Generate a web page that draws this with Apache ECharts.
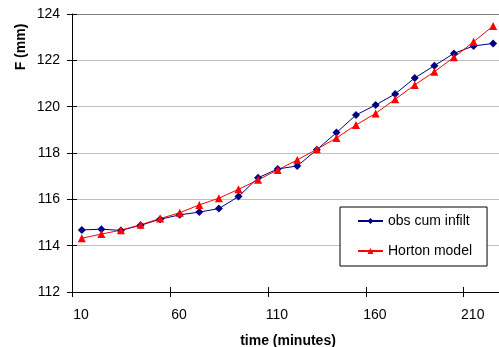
<!DOCTYPE html>
<html>
<head>
<meta charset="utf-8">
<script src="https://cdn.jsdelivr.net/npm/echarts@6/dist/echarts.min.js"></script>
<style>html,body{margin:0;padding:0;background:#fff;}#c{width:499px;height:347px;}</style>
</head>
<body>
<div id="c"></div>
<script>
const minutes = [15,25,35,45,55,65,75,85,95,105,115,125,135,145,155,165,175,185,195,205,215,225];
const obsCumInfilt = [114.68,114.71,114.66,114.88,115.14,115.33,115.45,115.6,116.12,116.93,117.31,117.44,118.14,118.88,119.64,120.07,120.55,121.24,121.77,122.30,122.62,122.73];
const hortonModel = [114.32,114.5,114.67,114.9,115.17,115.42,115.76,116.05,116.43,116.84,117.27,117.7,118.16,118.65,119.21,119.71,120.32,120.94,121.51,122.13,122.8,123.48];
const xTicks = [10,60,110,160,210];
const seriesNames = ['obs cum infilt','Horton model'];
const xTitle = 'time (minutes)';
const yTitle = 'F (mm)';

const font = '"Liberation Sans", Arial, sans-serif';
const chart = echarts.init(document.getElementById('c'), null, {renderer:'canvas'});
const pair = (xs, ys) => xs.map((x,i)=>[x, ys[i]]);
chart.setOption({
  animation:false,
  backgroundColor:'#fff',
  grid:{left:72, right:0, top:14, bottom:55, containLabel:false, outerBoundsMode:'none'},
  xAxis:[{
    type:'value', min:10, max:228,
    axisLine:{show:true, lineStyle:{color:'#000', width:1}},
    axisTick:{show:true, length:5, customValues:xTicks, lineStyle:{color:'#000'}},
    axisLabel:{customValues:xTicks, margin:16, padding:[0,0,0,18], color:'#000', fontSize:14, fontFamily:font},
    splitLine:{show:false},
    name:xTitle, nameLocation:'middle', nameGap:42,
    nameTextStyle:{color:'#000', fontSize:14, fontWeight:'bold', fontFamily:font, padding:[0,0,0,5]}
  },{
    type:'value', min:10, max:228, position:'bottom',
    axisLine:{show:false},
    axisTick:{show:true, inside:true, length:5, customValues:xTicks, lineStyle:{color:'#000'}},
    axisLabel:{show:false}, splitLine:{show:false}
  }],
  yAxis:[{
    type:'value', min:112, max:124, interval:2,
    axisLine:{show:true, lineStyle:{color:'#000', width:1}},
    axisTick:{show:true, length:5, lineStyle:{color:'#000'}},
    axisLabel:{margin:12, color:'#000', fontSize:14, fontFamily:font},
    splitLine:{show:true, lineStyle:{color:['#c0c0c0','#c0c0c0','#c0c0c0','#c0c0c0','#c0c0c0','#c0c0c0','#808080'], width:1}}
  },{
    type:'value', min:112, max:124, interval:2, position:'left',
    axisLine:{show:false},
    axisTick:{show:true, inside:true, length:5, lineStyle:{color:'#000'}},
    axisLabel:{show:false}, splitLine:{show:false}
  }],
  legend:{
    orient:'vertical', left:340, top:207,
    padding:[7,15,8,17], itemGap:16, itemWidth:25, itemHeight:7.5,
    backgroundColor:'#fff', borderColor:'#000', borderWidth:1, borderRadius:0,
    textStyle:{color:'#000', fontSize:14, fontFamily:font},
    data:seriesNames
  },
  graphic:[{
    type:'text', x:21, y:47, rotation:Math.PI/2,
    style:{text:yTitle, fill:'#000', font:'bold 14px ' + font, align:'center', verticalAlign:'middle'}
  }],
  series:[{
    name:seriesNames[0], type:'line', data:pair(minutes, obsCumInfilt),
    symbol:'diamond', symbolSize:8, color:'#000080',
    lineStyle:{color:'#000080', width:1}, itemStyle:{color:'#000080'}
  },{
    name:seriesNames[1], type:'line', data:pair(minutes, hortonModel),
    symbol:'triangle', symbolSize:8, color:'#ff0000',
    lineStyle:{color:'#ff0000', width:1}, itemStyle:{color:'#ff0000'}
  }]
});
</script>
</body>
</html>
